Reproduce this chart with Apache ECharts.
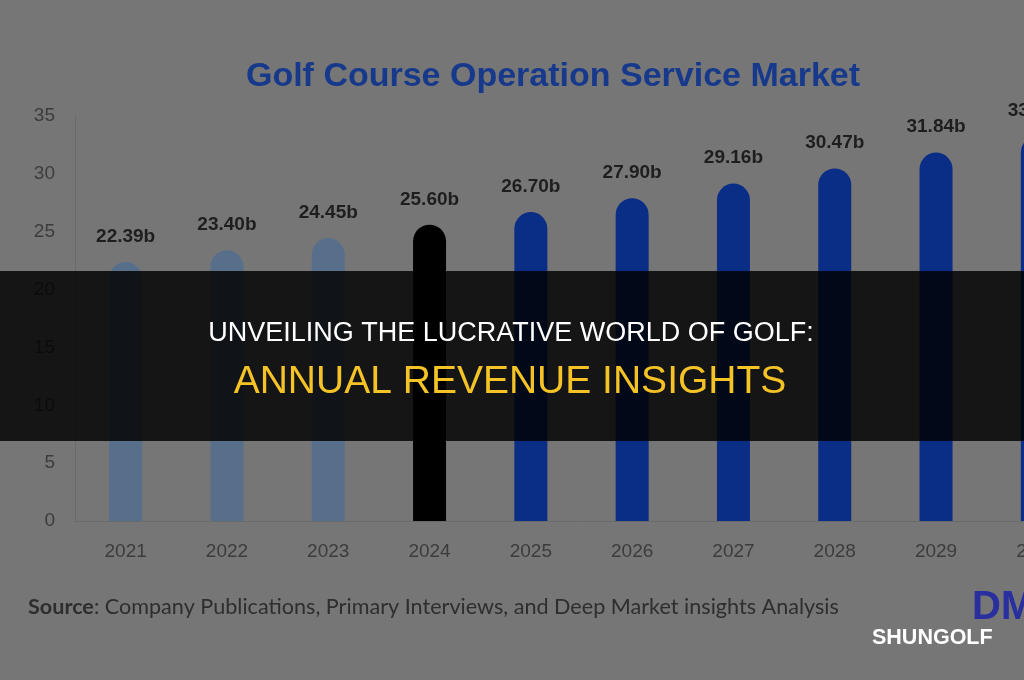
<!DOCTYPE html>
<html>
<head>
<meta charset="utf-8">
<script src="https://cdn.jsdelivr.net/npm/echarts@6/dist/echarts.min.js"></script>
<style>
html,body{margin:0;padding:0;background:#767676;overflow:hidden;width:1024px;height:680px;}
#c{width:1088px;height:680px;}
</style>
</head>
<body>
<div id="c"></div>
<script>
// Data
const years = ['2021','2022','2023','2024','2025','2026','2027','2028','2029','2030'];
const revenue = [22.39, 23.40, 24.45, 25.60, 26.70, 27.90, 29.16, 30.47, 31.84, 33.27];
const baseYear = '2024';
const yTicks = [0, 5, 10, 15, 20, 25, 30, 35];

const title = 'Golf Course Operation Service Market';
const bannerLine1 = 'UNVEILING THE LUCRATIVE WORLD OF GOLF:';
const bannerLine2 = 'ANNUAL REVENUE INSIGHTS';

const COLOR_HIST = '#586f8c';
const COLOR_BASE = '#000000';
const COLOR_FCST = '#0a2d86';
const FONT = '"Liberation Sans", Arial, sans-serif';

function colorFor(y){
  if (y < baseYear) return COLOR_HIST;
  if (y === baseYear) return COLOR_BASE;
  return COLOR_FCST;
}

const chart = echarts.init(document.getElementById('c'), null, {renderer:'canvas'});
chart.setOption({
  backgroundColor: '#767676',
  animation: false,
  grid: {left: 75, right: 0, top: 116, bottom: 159, containLabel: false},
  xAxis: {
    type: 'category',
    data: years,
    axisLine: {show:true, lineStyle:{color:'#6a6a6a', width:1}},
    axisTick: {show:false},
    axisLabel: {color:'#3c3c3c', fontSize:19, margin:21, fontFamily:FONT}
  },
  yAxis: {
    type: 'value',
    min: yTicks[0], max: yTicks[yTicks.length-1], interval: 5,
    axisLine: {show:true, lineStyle:{color:'#6a6a6a', width:1}},
    axisTick: {show:false},
    splitLine: {show:false},
    axisLabel: {color:'#3c3c3c', fontSize:19, margin:20, fontFamily:FONT}
  },
  series: [{
    type: 'bar',
    barWidth: 33,
    data: revenue.map((v,i)=>({value:v, itemStyle:{color:colorFor(years[i]), borderRadius:[16.5,16.5,0,0]}})),
    label: {
      show: true,
      position: 'top',
      distance: 16,
      formatter: p => p.value.toFixed(2) + 'b',
      color: '#1e1e1e',
      fontWeight: 'bold',
      fontSize: 19,
      fontFamily: FONT
    }
  }],
  graphic: [
    {
      type: 'text', x: 553, y: 77, z: 50,
      style: {
        text: title, fill: '#17398c', align: 'center', verticalAlign: 'middle',
        font: 'bold 34px ' + FONT
      }
    },
    {
      type: 'text', x: 28, y: 607, z: 50,
      style: {
        text: '{b|Source}: Company Publications, Primary Interviews, and Deep Market insights Analysis',
        fill: '#2e2e2e', verticalAlign: 'middle',
        font: '21.6px Lato, sans-serif',
        rich: {b: {fontWeight:'bold', fontSize:21.6, fontFamily:'Lato, sans-serif', fill:'#2e2e2e'}}
      }
    },
    {
      type: 'text', x: 972, y: 608, z: 50,
      style: {text: 'DMI', fill: '#2a2fa0', verticalAlign: 'middle', font: 'bold 40px ' + FONT}
    },
    {
      type: 'rect', z: 100,
      shape: {x: 0, y: 271, width: 1088, height: 170},
      style: {fill: 'rgba(0,0,0,0.82)'}
    },
    {
      type: 'text', z: 101, x: 511, y: 334,
      style: {text: bannerLine1, fill: '#ffffff', align: 'center', verticalAlign: 'middle', font: '27px ' + FONT}
    },
    {
      type: 'text', z: 101, x: 510, y: 382,
      style: {text: bannerLine2, fill: '#f5c326', align: 'center', verticalAlign: 'middle', font: '39px ' + FONT}
    },
    {
      type: 'text', z: 101, x: 872, y: 638,
      style: {text: 'SHUNGOLF', fill: '#ffffff', verticalAlign: 'middle', font: 'bold 21.5px ' + FONT}
    }
  ]
});
</script>
</body>
</html>
